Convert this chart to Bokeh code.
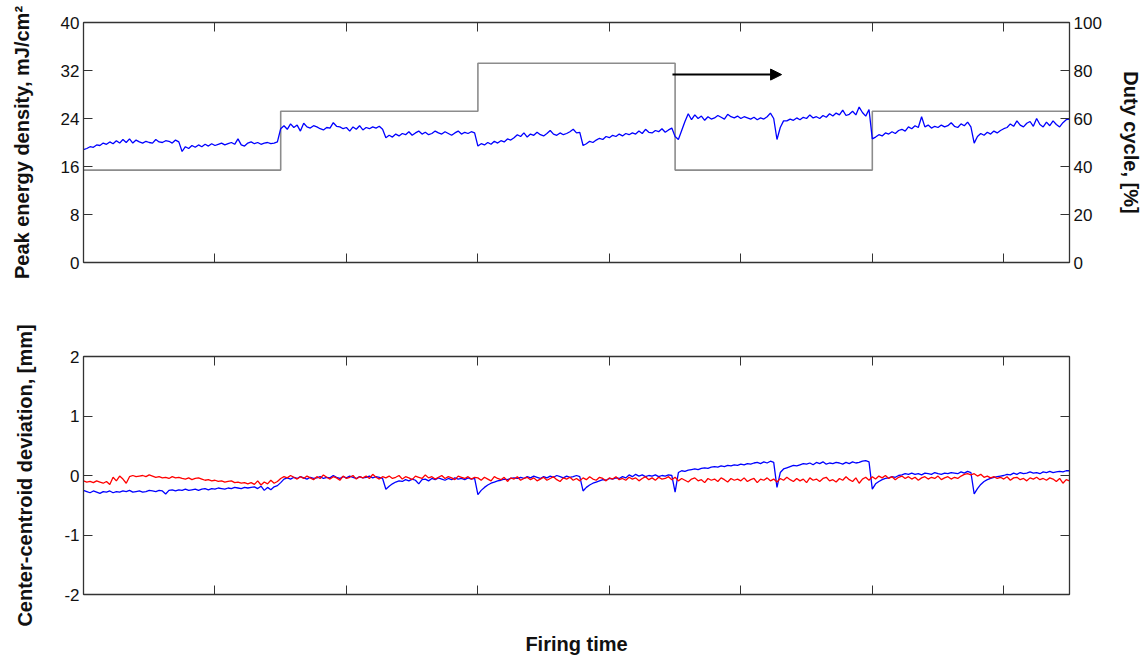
import numpy as np
from bokeh.plotting import figure
from bokeh.layouts import column
from bokeh.models import (Range1d, LinearAxis, FixedTicker, Arrow, NormalHead,
                          CustomLabelingPolicy)
from bokeh.embed import file_html
from bokeh.resources import INLINE

# ---------------- data ----------------
x_ticks = [1, 2, 3, 4, 5, 6, 7]
energy_ticks = [0, 8, 16, 24, 32, 40]
duty_ticks = [0, 20, 40, 60, 80, 100]
dev_ticks = [-2, -1, 0, 1, 2]

duty_edges = [0.0, 1.5, 3.0, 4.5, 6.0, 7.5]
duty_values = [38.5, 63.0, 83.0, 38.5, 63.0]

arrow_x = [4.48, 5.31]
arrow_duty = 78.3

energy = (
    [18.8, 19.0, 19.3, 19.2,
     19.6, 19.5, 19.9, 19.7, 20.1, 19.8, 20.3, 19.9, 20.5, 20.0, 20.6, 19.9, 20.4, 20.1, 19.9, 20.2,
     20.0, 19.9, 20.5, 20.1, 20.0, 20.3, 20.2, 19.9, 20.4, 20.1,
     18.5, 19.3, 19.0, 19.5, 19.2, 19.6, 19.3, 19.7, 19.4, 19.8, 19.5,
     19.7, 19.9, 19.6, 19.8, 20.0, 19.7, 20.6, 19.6, 19.4, 19.9, 20.1, 19.8, 20.0, 19.7, 19.9, 20.0,
     19.8, 19.9, 20.1]
    + [22.3, 22.8, 22.2, 23.1, 22.5, 22.9, 21.9, 23.2, 22.6, 22.4, 22.8, 22.6, 22.3, 22.1, 22.5, 22.4,
       23.3, 22.7, 22.6, 22.3, 22.5, 21.9, 22.6, 22.2, 22.8, 22.1, 22.5, 22.3, 22.6, 22.4, 22.7, 22.2,
       20.8, 21.2, 20.9, 21.4, 21.1, 21.5, 21.3, 21.8, 21.2, 21.6, 21.9, 21.4, 21.7, 21.3, 21.5, 21.9,
       21.6, 21.4, 21.8, 21.5, 21.2, 21.6, 21.9, 21.4, 21.7, 21.5, 21.8, 21.6]
    + [19.4, 19.8, 19.6, 20.0, 19.7, 20.2, 19.9, 20.3, 20.1, 20.6, 20.4, 20.8,
       21.3, 21.0, 21.6, 20.9, 21.4, 21.2, 21.7, 21.3, 21.1, 21.5, 22.0, 21.4, 21.2, 21.6, 21.3, 21.5,
       21.8, 22.2, 21.6, 21.7,
       19.5,
       19.8, 20.2, 20.0, 20.4, 20.7, 20.5, 21.0, 20.8, 21.2, 21.0, 21.4, 21.1, 21.5, 21.3, 21.6, 21.4,
       21.9, 21.5, 22.2, 21.7, 21.6, 22.0, 21.8, 22.3, 21.7, 22.1, 22.4]
    + [21.0, 20.5, 22.0, 23.5, 24.8,
       23.8, 24.6, 24.0, 24.4, 23.7, 24.3, 23.9, 24.1, 24.5, 24.2, 23.9, 24.7, 24.3, 24.1, 24.4, 24.0,
       24.3, 24.1, 23.9, 24.2, 23.8, 24.1, 23.9, 24.3, 24.9, 24.0,
       20.5, 22.5, 23.6,
       23.6, 23.9, 23.7, 24.1, 23.8, 24.2, 24.0, 24.6, 24.1, 24.3, 24.0, 24.5, 24.2, 24.8, 24.4, 24.9,
       24.6, 25.4, 24.5, 24.7, 25.2, 24.6, 25.9, 25.0, 24.4, 25.5]
    + [20.6, 20.9, 21.3, 21.1, 21.6, 21.4, 21.8, 21.5, 22.0,
       22.2, 21.9, 22.6, 22.3, 22.8, 22.5, 24.3, 22.6, 22.9, 22.4, 22.7, 22.5, 22.9, 22.6, 22.8, 23.3,
       22.7, 22.5, 23.1, 22.8, 23.4, 22.6,
       19.9, 21.0, 21.5, 21.2, 21.7, 21.4, 21.9, 21.6, 22.0, 22.3,
       22.5, 23.1, 22.7, 23.6, 22.9, 22.6, 23.2, 23.5, 22.7, 24.0, 23.0, 22.6, 23.4, 22.8, 23.6, 23.0,
       22.6, 23.3, 23.8, 23.9]
)

dev_blue = (
    [-0.25, -0.27, -0.29, -0.26, -0.28, -0.30, -0.27, -0.28, -0.26, -0.29,
     -0.27, -0.28, -0.26, -0.27, -0.25, -0.28, -0.27, -0.26, -0.28, -0.27,
     -0.25, -0.26, -0.27, -0.25, -0.26, -0.31, -0.25, -0.24, -0.26, -0.24,
     -0.25, -0.23, -0.25, -0.24, -0.23, -0.25, -0.23, -0.22, -0.24, -0.22,
     -0.23, -0.21, -0.22, -0.23, -0.21, -0.22, -0.20, -0.21, -0.22, -0.20,
     -0.21, -0.20, -0.19,
     -0.22, -0.18, -0.25, -0.20, -0.24, -0.19, -0.17]
    + [-0.12, -0.06,
       -0.04, -0.06, -0.03, -0.05, -0.02, -0.04, -0.06, -0.03, -0.05, -0.04,
       -0.02, -0.05, -0.03, -0.04, 0.00, -0.03, -0.05, -0.02, -0.04, -0.01,
       -0.03, -0.05, -0.02, -0.04, -0.03, -0.01, -0.04, -0.02, -0.03, -0.05,
       -0.23,
       -0.18, -0.14, -0.11, -0.09, -0.10, -0.07, -0.09, -0.06, -0.08, -0.14,
       -0.07, -0.06, -0.09, -0.05, -0.07, -0.04, -0.06, -0.08, -0.05, -0.07,
       -0.04, -0.06, -0.05, -0.07, -0.04, -0.06, -0.05]
    + [-0.32,
       -0.25, -0.20, -0.16, -0.13, -0.11, -0.09, -0.08, -0.06, -0.07, -0.05, -0.04, -0.05,
       -0.03, -0.05, -0.02, -0.04, -0.01, -0.03, -0.05, -0.02, -0.04, -0.01,
       -0.03, 0.00, -0.02, -0.04, -0.01, -0.03, -0.02, 0.00, -0.02,
       -0.26,
       -0.20, -0.16, -0.13, -0.11, -0.09, -0.07, -0.08, -0.05, -0.06, -0.04,
       -0.05, -0.02, -0.04, 0.01, -0.02, 0.02, -0.01, 0.01, -0.02, 0.00,
       -0.01, 0.01, -0.02, 0.00, -0.01, 0.01, 0.00]
    + [-0.28, 0.05, 0.08,
       0.07, 0.09, 0.10, 0.11, 0.10, 0.12, 0.13, 0.12, 0.14, 0.15,
       0.14, 0.16, 0.15, 0.17, 0.16, 0.18, 0.17, 0.19, 0.18, 0.20,
       0.19, 0.21, 0.22, 0.20, 0.23, 0.21, 0.24, 0.22,
       -0.20, 0.05, 0.11,
       0.13, 0.15, 0.17, 0.16, 0.18, 0.20, 0.19, 0.21, 0.18, 0.22,
       0.20, 0.23, 0.19, 0.21, 0.20, 0.22, 0.21, 0.19, 0.22, 0.20,
       0.23, 0.21, 0.22, 0.24, 0.25, 0.23]
    + [-0.23,
       -0.14, -0.10, -0.07, -0.05, -0.04, -0.02, -0.03, 0.00,
       0.01, 0.03, 0.02, 0.04, 0.02, 0.03, 0.01, 0.04, 0.03, 0.02,
       0.05, 0.03, 0.02, 0.04, 0.03, 0.05, 0.04, 0.03, 0.06, 0.04, 0.07, 0.05,
       -0.31,
       -0.22, -0.15, -0.10, -0.07, -0.05, -0.03, -0.02, -0.01, 0.00,
       0.02, 0.01, 0.04, 0.02, 0.05, 0.03, 0.04, 0.06, 0.04, 0.05,
       0.03, 0.06, 0.05, 0.07, 0.05, 0.06, 0.07, 0.06, 0.08, 0.08]
)

dev_red = (
    [-0.09, -0.11, -0.10, -0.12, -0.09, -0.11, -0.13, -0.10,
     -0.15, -0.03, -0.09, -0.01, -0.06, -0.13, -0.02, 0.00,
     -0.02, -0.01, 0.00, -0.02, 0.01, -0.01, -0.03, -0.02, -0.04, -0.03,
     -0.05, -0.02, -0.04, -0.03, -0.05, -0.06, -0.04, -0.07, -0.05, -0.04,
     -0.06, -0.08, -0.07, -0.09,
     -0.08, -0.10, -0.09, -0.11, -0.10, -0.09, -0.12, -0.11, -0.13, -0.12,
     -0.14, -0.12, -0.15, -0.09, -0.16, -0.11, -0.14, -0.08, -0.13, -0.10]
    + [-0.05, -0.02, -0.04, 0.00, -0.03, -0.06, -0.02, -0.05, -0.01, -0.04,
       -0.07, -0.02, -0.05, 0.01, -0.03, -0.06, -0.02, -0.04, -0.08, -0.01,
       -0.05, -0.03, 0.00, -0.06, -0.02, -0.04, -0.01, -0.05, 0.02, -0.03,
       -0.06, -0.02, -0.04, -0.01, -0.05, -0.03, 0.00, -0.06, -0.02, -0.04,
       -0.07, -0.01, -0.03, -0.05, 0.01, -0.04, -0.02, -0.06, -0.03, 0.00,
       -0.05, -0.02, -0.04, -0.07, -0.01, -0.03, -0.05, -0.02, -0.06, -0.03]
    + [-0.04, -0.08, -0.03, -0.06, -0.09, -0.02, -0.05, -0.07, -0.03, -0.10,
       -0.04, -0.06, -0.02, -0.08, -0.05, -0.03, -0.07, -0.04, -0.09, -0.06,
       -0.03, -0.08, -0.05, -0.02, -0.07, -0.10, -0.04, -0.06, -0.03, -0.08,
       -0.05, -0.09, -0.04, -0.07, -0.02, -0.06, -0.08, -0.03, -0.05, -0.09,
       -0.04, -0.06, -0.02, -0.07, -0.05, -0.08, -0.03, -0.06, -0.04, -0.09,
       -0.05, -0.02, -0.07, -0.04, -0.08, -0.03, -0.06, -0.05, -0.02, -0.07]
    + [-0.03, -0.09, -0.05, -0.08, -0.11, -0.06, -0.04, -0.09, -0.07, -0.12,
       -0.05, -0.08, -0.06, -0.10, -0.04, -0.07, -0.11, -0.05, -0.08, -0.06,
       -0.09, -0.04, -0.10, -0.07, -0.05, -0.12, -0.06, -0.08, -0.04, -0.09,
       -0.06, -0.11, -0.05, -0.08, -0.03, -0.07, -0.10, -0.05, -0.09, -0.06,
       -0.12, -0.04, -0.08, -0.06, -0.10, -0.05, -0.03, -0.09, -0.07, -0.11,
       -0.05, -0.08, -0.02, -0.07, -0.10, -0.04, -0.13, -0.06, -0.03, -0.08]
    + [-0.02, -0.06, -0.01, -0.04, 0.00, -0.05, -0.02, -0.07, -0.03, -0.01,
       -0.05, -0.02, -0.06, -0.03, -0.08, -0.04, -0.02, -0.06, -0.03, -0.05,
       -0.01, -0.07, -0.04, -0.02, -0.06, -0.03, -0.05, -0.01, 0.02, 0.03,
       0.01, 0.03, -0.01, 0.02, -0.03, -0.01, -0.04, -0.02, -0.05, -0.03,
       -0.06, -0.02, -0.08, -0.04, -0.03, -0.07, -0.05, -0.09, -0.04, -0.06,
       -0.03, -0.07, -0.05, -0.08, -0.04, -0.06, -0.10, -0.05, -0.13, -0.07, -0.09]
)

X_MAX = 7.5
t_energy = np.linspace(0, X_MAX, len(energy))
t_blue = np.linspace(0, X_MAX, len(dev_blue))
t_red = np.linspace(0, X_MAX, len(dev_red))

# step coordinates for the duty cycle
step_x, step_y = [], []
for i, v in enumerate(duty_values):
    step_x += [duty_edges[i], duty_edges[i + 1]]
    step_y += [v, v]

FONT = "Liberation Sans"
AX_COL = "#333333"
W = 1144

NO_LABELS = "for (const i of indices) { indices.unset(i) }\nreturn indices"


def style_axis(ax, ticks, show_labels, overrides=None):
    ax.ticker = FixedTicker(ticks=ticks)
    ax.major_tick_in = 9
    ax.major_tick_out = 0
    ax.minor_tick_in = 0
    ax.minor_tick_out = 0
    ax.axis_line_color = AX_COL
    ax.major_tick_line_color = AX_COL
    ax.axis_line_width = 1.3
    ax.major_label_text_font = FONT
    ax.major_label_text_color = "#111111"
    ax.axis_label_text_font = FONT
    ax.axis_label_text_font_style = "bold"
    ax.axis_label_text_font_size = "20px"
    ax.axis_label_text_color = "#111111"
    if show_labels:
        ax.major_label_text_font_size = "17px"
        ax.major_label_standoff = 4
        if overrides:
            ax.major_label_overrides = overrides
    else:
        ax.major_label_text_font_size = "2px"
        ax.major_label_standoff = 0
        ax.major_label_policy = CustomLabelingPolicy(code=NO_LABELS)


# ---------------- top panel ----------------
p1 = figure(width=W, height=292, output_backend="svg", toolbar_location=None,
            x_range=Range1d(0, X_MAX), y_range=Range1d(0, 40),
            min_border_left=83, min_border_right=73, min_border_top=22, min_border_bottom=30,
            x_axis_location=None, y_axis_location=None)
p1.extra_y_ranges = {"duty": Range1d(0, 100)}
p1.grid.visible = False
p1.outline_line_color = AX_COL
p1.outline_line_width = 1.0

ax_l = LinearAxis(axis_label="Peak energy density, mJ/cm\u00b2", axis_label_standoff=25)
style_axis(ax_l, energy_ticks, True)
p1.add_layout(ax_l, "left")
ax_r = LinearAxis(y_range_name="duty", axis_label="Duty cycle, [%]", axis_label_standoff=15)
style_axis(ax_r, duty_ticks, True)
p1.add_layout(ax_r, "right")
ax_b = LinearAxis()
style_axis(ax_b, x_ticks, False)
p1.add_layout(ax_b, "below")
ax_t = LinearAxis()
style_axis(ax_t, x_ticks, False)
p1.add_layout(ax_t, "above")

p1.line(step_x, step_y, y_range_name="duty", line_color="#8c8c8c", line_width=1.6)
p1.line(t_energy, energy, line_color="#0000ff", line_width=1.3)
p1.add_layout(Arrow(end=NormalHead(size=11, fill_color="black", line_color="black"),
                    x_start=arrow_x[0], y_start=arrow_duty, x_end=arrow_x[1], y_end=arrow_duty,
                    y_range_name="duty", line_color="black", line_width=2))

# ---------------- bottom panel ----------------
p2 = figure(width=W, height=365, output_backend="svg", toolbar_location=None,
            x_range=Range1d(0, X_MAX), y_range=Range1d(-2, 2),
            min_border_left=83, min_border_right=73, min_border_top=64, min_border_bottom=61,
            x_axis_location=None, y_axis_location=None)
p2.grid.visible = False
p2.outline_line_color = AX_COL
p2.outline_line_width = 1.0

ax2_l = LinearAxis(axis_label="Center-centroid deviation, [mm]", axis_label_standoff=25)
style_axis(ax2_l, dev_ticks, True, {t: str(t) for t in dev_ticks})
p2.add_layout(ax2_l, "left")
ax2_r = LinearAxis()
style_axis(ax2_r, dev_ticks, False)
p2.add_layout(ax2_r, "right")
ax2_b = LinearAxis(axis_label="Firing time", axis_label_standoff=34)
style_axis(ax2_b, x_ticks, False)
p2.add_layout(ax2_b, "below")
ax2_t = LinearAxis()
style_axis(ax2_t, x_ticks, False)
p2.add_layout(ax2_t, "above")

p2.line(t_blue, dev_blue, line_color="#0000ff", line_width=1.3)
p2.line(t_red, dev_red, line_color="#ff0000", line_width=1.3)

layout = column(p1, p2, spacing=0)
open("out.html", "w").write(file_html(layout, INLINE))
